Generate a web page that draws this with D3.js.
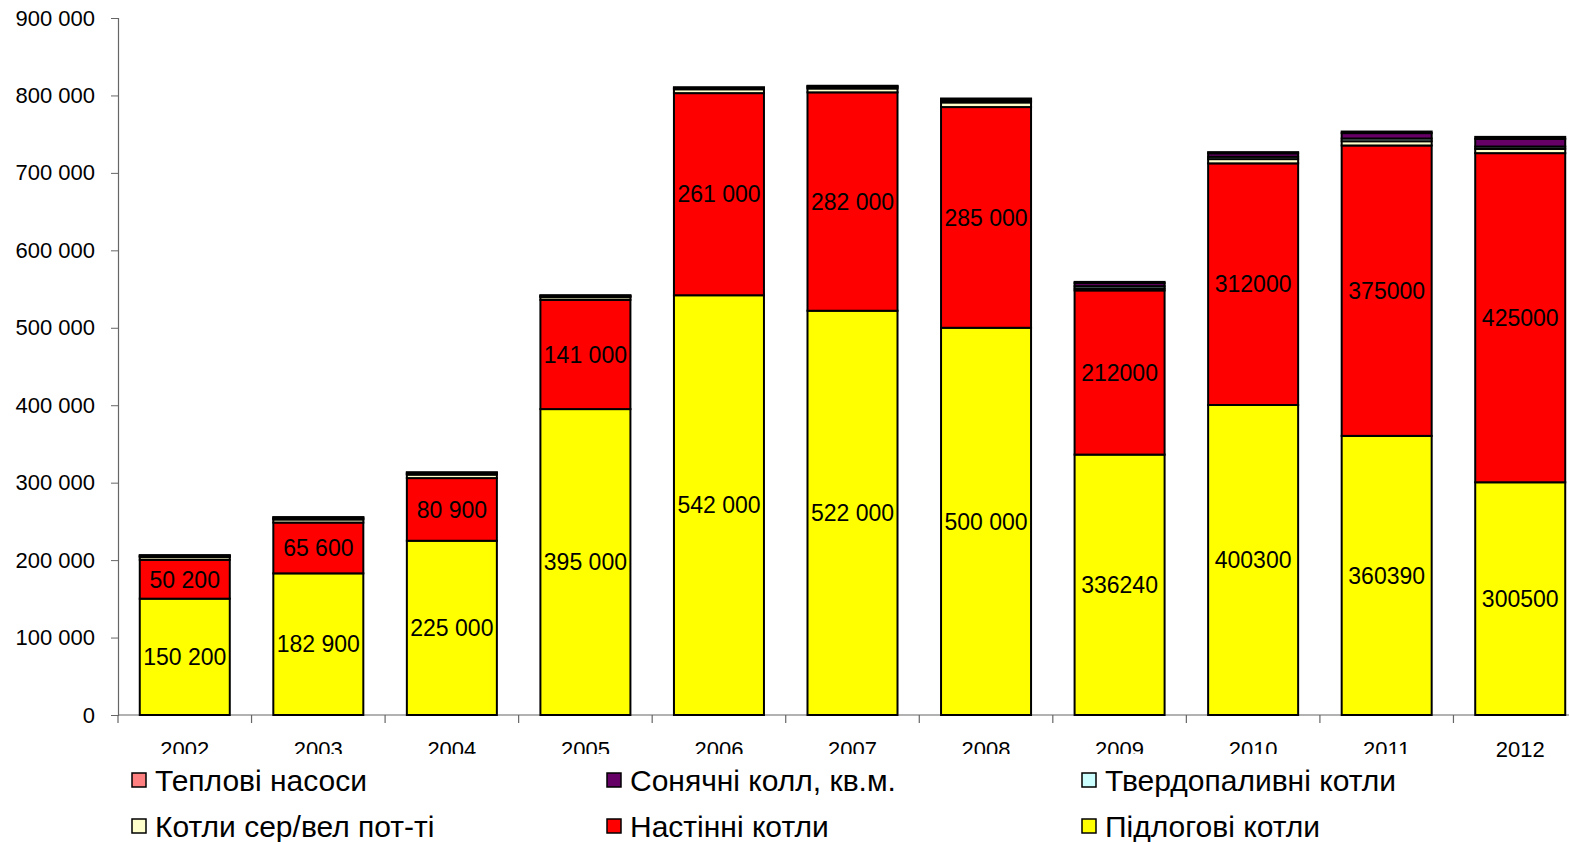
<!DOCTYPE html>
<html>
<head>
<meta charset="utf-8">
<script src="https://cdn.jsdelivr.net/npm/d3@7"></script>
<style>
  html, body { margin: 0; padding: 0; background: #fff; overflow: hidden; }
  svg { display: block; font-family: "Liberation Sans", Arial, sans-serif; }
</style>
</head>
<body>
<svg id="chart" width="1569" height="842"></svg>
<script>
// Years on the category axis
const years = ["2002", "2003", "2004", "2005", "2006", "2007", "2008", "2009", "2010", "2011", "2012"];

// Series values, units per year (stacked from the bottom up)
const floorBoilers   = [150200, 182900, 225000, 395000, 542000, 522000, 500000, 336240, 400300, 360390, 300500];
const wallBoilers    = [50200, 65600, 80900, 141000, 261000, 282000, 285000, 212000, 312000, 375000, 425000];
const midBigBoilers  = [3500, 4000, 4500, 3500, 5000, 5000, 6000, 2500, 5500, 5500, 5500];
const solidFuel      = [1000, 1000, 1000, 1000, 1000, 1500, 2000, 3000, 3000, 3500, 3000];
const solarSqM       = [1000, 1500, 1500, 1000, 1000, 1500, 2500, 4000, 4500, 7000, 10000];
const heatPumps      = [500, 500, 500, 500, 500, 500, 500, 1500, 1500, 2000, 2500];

// Years whose labels use a space as thousands separator
const spacedLabelYears = ["2002", "2003", "2004", "2005", "2006", "2007", "2008"];

// Y axis ticks
const yTicks = [0, 100000, 200000, 300000, 400000, 500000, 600000, 700000, 800000, 900000];

const series = [
  { key: "floor",  name: "Підлогові котли",          values: floorBoilers,  color: "#FFFF00", labeled: true },
  { key: "wall",   name: "Настінні котли",           values: wallBoilers,   color: "#FF0000", labeled: true },
  { key: "midbig", name: "Котли сер/вел пот-ті",     values: midBigBoilers, color: "#FFFFCC", labeled: false },
  { key: "solid",  name: "Твердопаливні котли",      values: solidFuel,     color: "#CCFFFF", labeled: false },
  { key: "solar",  name: "Сонячні колл, кв.м.",      values: solarSqM,      color: "#660066", labeled: false },
  { key: "pumps",  name: "Теплові насоси",           values: heatPumps,     color: "#FF8080", labeled: false }
];

const svg = d3.select("#chart");

const x = d3.scaleBand().domain(years).range([118, 1587]).paddingInner(0.326).paddingOuter(0.163);
const y = d3.scaleLinear().domain([0, 900000]).range([715, 18]);

const rows = years.map((yr, i) => {
  const r = { year: yr };
  series.forEach(s => r[s.key] = s.values[i]);
  return r;
});
const stack = d3.stack().keys(series.map(s => s.key));
const stacked = stack(rows);

const spaced = d3.formatLocale({ decimal: ".", thousands: " ", grouping: [3], currency: ["", ""] }).format(",d");
const plain = d3.format("d");
const fmtLabel = (yr, v) => spacedLabelYears.includes(yr) ? spaced(v) : plain(v);

// Axes
const yAxis = d3.axisLeft(y).tickValues(yTicks).tickSize(7).tickPadding(16)
  .tickFormat(v => spaced(v));
const gy = svg.append("g").attr("transform", "translate(118,0)").call(yAxis);
gy.select(".domain").attr("stroke", "#666").attr("stroke-width", 1.2);
gy.selectAll(".tick line").attr("stroke", "#666");
gy.selectAll(".tick text").attr("font-size", 22).attr("fill", "#000")
  .attr("font-family", "'Liberation Sans', Arial, sans-serif");

// X axis line with ticks on band boundaries
const gx = svg.append("g");
gx.append("line").attr("x1", 118).attr("x2", 1569).attr("y1", 715).attr("y2", 715)
  .attr("stroke", "#666").attr("stroke-width", 1.2);
const step = x.step();
gx.selectAll("line.tk").data(d3.range(years.length + 1)).join("line")
  .attr("class", "tk")
  .attr("x1", i => x.range()[0] + i * step).attr("x2", i => x.range()[0] + i * step)
  .attr("y1", 715).attr("y2", 723).attr("stroke", "#666").attr("stroke-width", 1.2);
gx.selectAll("text").data(years).join("text")
  .attr("x", d => x(d) + x.bandwidth() / 2).attr("y", 757)
  .attr("text-anchor", "middle").attr("font-size", 22).text(d => d);

// Stacked bars
const layers = svg.append("g").selectAll("g").data(stacked).join("g")
  .attr("fill", (d, i) => series[i].color);
layers.selectAll("rect").data(d => d).join("rect")
  .attr("x", d => x(d.data.year))
  .attr("width", x.bandwidth())
  .attr("y", d => y(d[1]))
  .attr("height", d => y(d[0]) - y(d[1]))
  .attr("stroke", "#000").attr("stroke-width", 2);

// Value labels in the two large segments
const labelG = svg.append("g");
stacked.forEach((layer, i) => {
  if (!series[i].labeled) return;
  labelG.selectAll(null).data(layer).join("text")
    .attr("x", d => x(d.data.year) + x.bandwidth() / 2)
    .attr("y", d => (y(d[0]) + y(d[1])) / 2)
    .attr("dy", "0.36em")
    .attr("text-anchor", "middle").attr("font-size", 23).attr("fill", "#000")
    .text(d => fmtLabel(d.data.year, d.data[series[i].key]));
});

// Legend (white box sits over the lower part of the category labels)
const legend = svg.append("g");
legend.append("rect").attr("x", 120).attr("y", 754).attr("width", 1350).attr("height", 88).attr("fill", "#fff");
const legendOrder = ["pumps", "solar", "solid", "midbig", "wall", "floor"];
const legendItems = legendOrder.map(k => series.find(s => s.key === k));
const item = legend.selectAll("g.item").data(legendItems).join("g")
  .attr("class", "item")
  .attr("transform", (d, i) => `translate(${132 + (i % 3) * 475},${780 + Math.floor(i / 3) * 46})`);
item.append("rect").attr("x", 0).attr("y", -7).attr("width", 14).attr("height", 14)
  .attr("fill", d => d.color).attr("stroke", "#000").attr("stroke-width", 1.5);
item.append("text").attr("x", 23).attr("y", 0).attr("dy", "0.36em")
  .attr("font-size", 30).attr("fill", "#000").text(d => d.name);
</script>
</body>
</html>
